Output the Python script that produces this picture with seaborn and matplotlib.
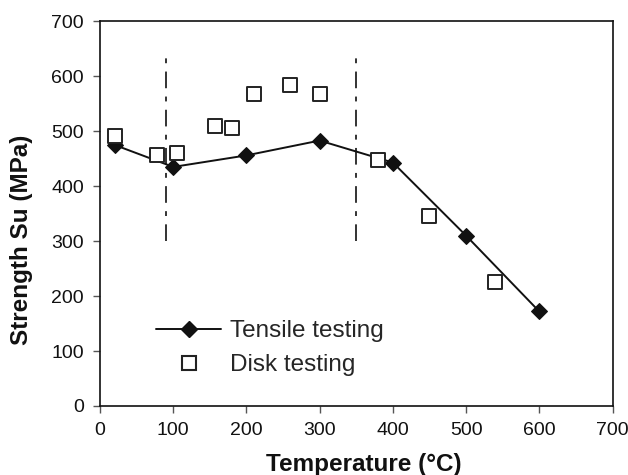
import matplotlib
matplotlib.use("Agg")
import matplotlib.pyplot as plt
import seaborn as sns
import pandas as pd
from matplotlib.lines import Line2D

# data
tensile_temp = [20, 100, 200, 300, 400, 500, 600]
tensile_su = [475, 435, 456, 483, 443, 310, 172]
disk_temp = [20, 78, 105, 157, 180, 210, 260, 300, 380, 450, 540]
disk_su = [492, 457, 461, 510, 506, 567, 585, 567, 447, 346, 226]
boundary_temp = [90, 349]
boundary_range = [300, 635]
x_ticks = [0, 100, 200, 300, 400, 500, 600, 700]
y_ticks = [0, 100, 200, 300, 400, 500, 600, 700]

sns.set_theme(style="white")
plt.rcParams['font.family'] = ['Liberation Sans', 'DejaVu Sans']
plt.rcParams['lines.scale_dashes'] = False

fig = plt.figure(figsize=(6.28, 4.75), dpi=100)
ax = fig.add_axes([100/628, 1-406/475, 512.5/628, (406-21.3)/475])

tens = pd.DataFrame({"T": tensile_temp, "Su": tensile_su})
disk = pd.DataFrame({"T": disk_temp, "Su": disk_su})

sns.lineplot(data=tens, x="T", y="Su", ax=ax, color="#111111", lw=1.4,
             marker="D", markersize=8.5, markeredgecolor="#111111",
             markerfacecolor="#111111", zorder=3)
sns.scatterplot(data=disk, x="T", y="Su", ax=ax, marker="s", s=100,
                facecolor="white", edgecolor="#222222", linewidth=1.4, zorder=4)

ax.vlines(boundary_temp, boundary_range[0], boundary_range[1], colors="#111111",
          linewidth=1.2, linestyles=[(0, (12, 6, 3.5, 6))], zorder=2)

ax.set_xlim(0, 700)
ax.set_ylim(0, 700)
ax.set_xticks(x_ticks)
ax.set_yticks(y_ticks)
ax.tick_params(axis="both", which="major", direction="out", length=5,
               width=1, color="#555555", labelsize=14, pad=6.5,
               bottom=True, left=True, top=False, right=False,
               labelcolor="#111111")
for sp in ax.spines.values():
    sp.set_color("#111111")
    sp.set_linewidth(1.2)

ax.set_xlabel("Temperature (°C)", fontsize=17.5, fontweight="bold", color="#111111", va="center")
ax.xaxis.set_label_coords((364-100)/512.5, (406-465)/384.7)
ax.set_ylabel("Strength Su (MPa)", fontsize=17.5, fontweight="bold", color="#111111",
              va="center", ha="center")
ax.yaxis.set_label_coords((22-100)/512.5, (406-240)/384.7)

handles = [
    Line2D([], [], color="#111111", lw=1.4, marker="D", markersize=8.5,
           markerfacecolor="#111111", markeredgecolor="#111111"),
    Line2D([], [], color="none", marker="s", markersize=10.5, markerfacecolor="white",
           markeredgecolor="#222222", markeredgewidth=1.5, linestyle="none"),
]
ax.legend(handles, ["Tensile testing", "Disk testing"], loc="center left",
          bbox_to_anchor=(0.109, 0.15), frameon=False, fontsize=17.5,
          handlelength=2.7, handletextpad=0.35, labelspacing=0.5, borderpad=0,
          borderaxespad=0)

fig.savefig("out.png", dpi=100)
